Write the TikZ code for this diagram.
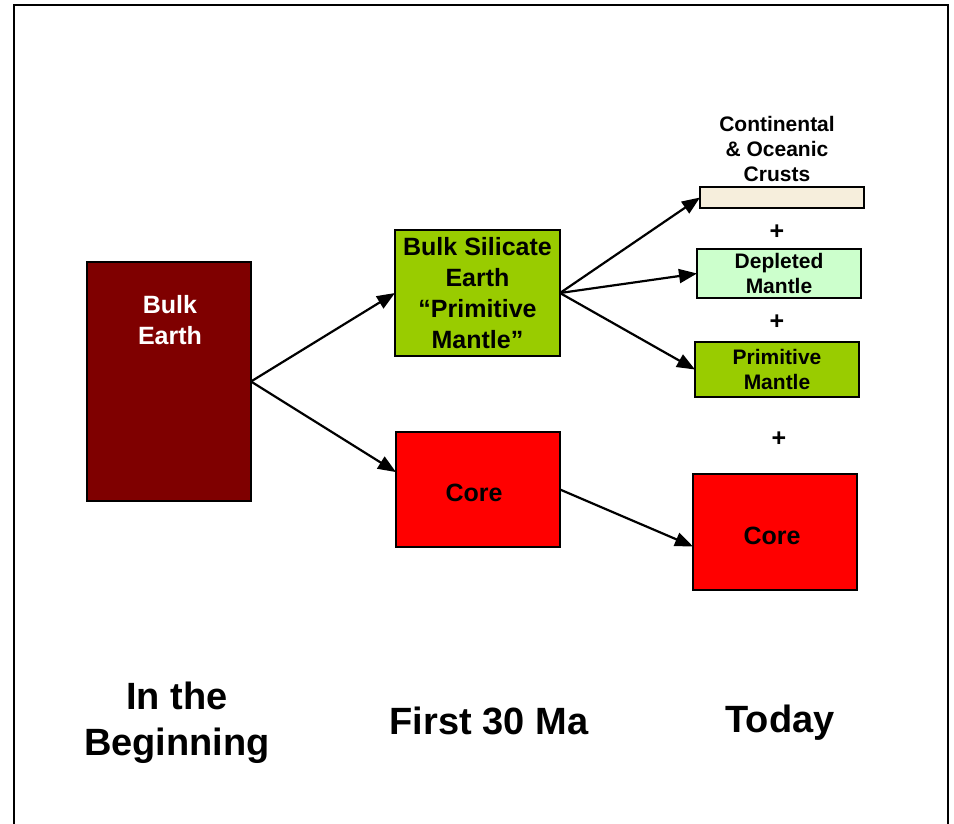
\documentclass[tikz,border=0pt]{standalone}
\usepackage{fontspec}
\setmainfont{Liberation Sans}
\usetikzlibrary{arrows.meta}
\definecolor{maroonbox}{HTML}{7F0000}
\definecolor{greenbox}{HTML}{99CC00}
\definecolor{lightgreen}{HTML}{CCFFCC}
\definecolor{redbox}{HTML}{FF0000}
\definecolor{crustfill}{HTML}{F6EEDC}
\begin{document}
\begin{tikzpicture}[x=1pt,y=-1pt,
  box/.style={draw=black, line width=1.3pt, inner sep=0pt, outer sep=0pt},
  big/.style={font=\bfseries\fontsize{25}{31}\selectfont, align=center},
  small/.style={font=\bfseries\fontsize{21}{25}\selectfont, align=center},
  huge/.style={font=\bfseries\fontsize{38}{46}\selectfont, align=center},
  arr/.style={line width=2.2pt, -{Triangle[length=18pt,width=14pt]}}]
\useasboundingbox (0,0) rectangle (954,823);
\draw[line width=2.5pt] (14,840) -- (14,5) -- (948,5) -- (948,840);
% boxes
\node[box, fill=maroonbox, minimum width=164, minimum height=239] (be) at (169,381.5) {};
\node[big, text=white] (betxt) at (170,320) {Bulk\\Earth};
\node[box, fill=greenbox, minimum width=165, minimum height=126, big] (bse) at (477.5,293) {Bulk Silicate\\Earth\\“Primitive\\Mantle”};
\node[box, fill=redbox, minimum width=164, minimum height=115] (core) at (478,489.5) {};
\node[big] (coretxt) at (474,493) {Core};
\node[box, fill=crustfill, minimum width=164, minimum height=21] (crust) at (782,197.5) {};
\node[small] (crusttxt) at (777,149) {Continental\\\& Oceanic\\Crusts};
\node[big] (p1) at (777,232) {+};
\node[box, fill=lightgreen, minimum width=164, minimum height=49, small] (dm) at (779,273.5) {Depleted\\Mantle};
\node[big] (p2) at (777,322) {+};
\node[box, fill=greenbox, minimum width=164, minimum height=55, small] (pm) at (777,369.5) {Primitive\\Mantle};
\node[big] (p3) at (779,439) {+};
\node[box, fill=redbox, minimum width=164, minimum height=116] (core2) at (775,532) {};
\node[big] (core2txt) at (772,536) {Core};
% bottom labels
\node[huge] (l1) at (177,723) {In the\\Beginning};
\node[huge] (l2) at (489,721) {First 30 Ma};
\node[huge] (l3) at (780,723) {Today};
% arrows
\draw[arr] (be.east) -- (bse.west);
\draw[arr] (be.east) -- (core.168);
\draw[arr] (bse.east) -- (crust.west);
\draw[arr] (bse.east) -- (dm.west);
\draw[arr] (bse.east) -- (pm.west);
\draw[arr] (core.east) -- (core2.190);
\end{tikzpicture}
\end{document}
